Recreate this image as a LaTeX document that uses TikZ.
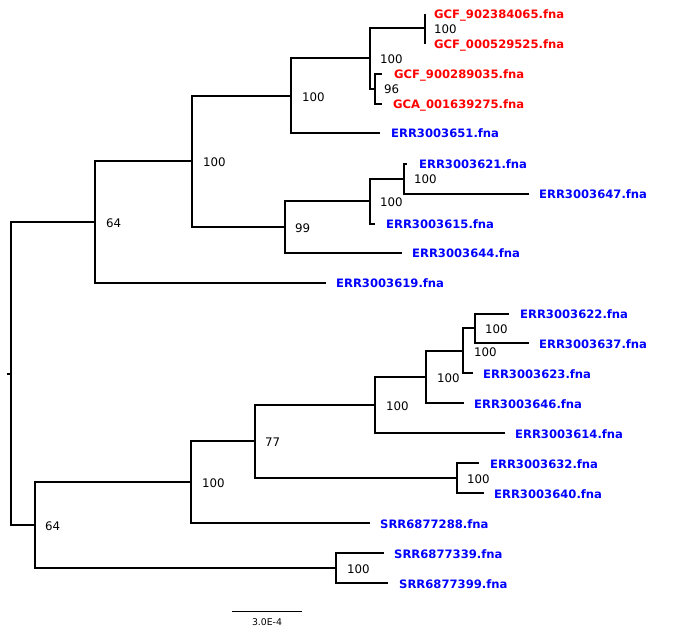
\documentclass[tikz,border=0pt]{standalone}
\usepackage{fontspec}
\setmainfont{DejaVu Sans}
\definecolor{tred}{RGB}{255,0,0}
\definecolor{tblue}{RGB}{0,0,255}
\tikzset{
  br/.style={line width=1.5pt, line join=miter},
  tipbase/.style={anchor=base west, inner sep=0pt, font=\bfseries\fontsize{11.6}{13}\selectfont},
  tipred/.style={tipbase, text=tred},
  tipblue/.style={tipbase, text=tblue},
  boot/.style={anchor=west, inner sep=0pt, font=\fontsize{11.8}{13}\selectfont},
  scaletext/.style={inner sep=0pt, font=\fontsize{9.3}{10}\selectfont}
}
\begin{document}
\begin{tikzpicture}[x=1pt,y=-1pt]
\useasboundingbox[fill=white] (0,0) rectangle (679,635);
% internal nodes
\coordinate (s) at (7,374);
\coordinate (r) at (11,374);
\coordinate (A) at (95,222);
\coordinate (B) at (192,161);
\coordinate (C) at (291,96);
\coordinate (D) at (370,58);
\coordinate (E) at (425,28);
\coordinate (F) at (375,89);
\coordinate (G) at (285,227);
\coordinate (H) at (370,201);
\coordinate (I) at (404,179);
\coordinate (J) at (35,525);
\coordinate (K) at (191,482);
\coordinate (L) at (255,441);
\coordinate (M) at (375,405);
\coordinate (N) at (426,377);
\coordinate (O) at (463,351);
\coordinate (P) at (475,328);
\coordinate (Q) at (457,478);
\coordinate (R) at (336,568);
% leaves
\coordinate (l1) at (425,14);
\coordinate (l2) at (425,44);
\coordinate (l3) at (382,74);
\coordinate (l4) at (382,104);
\coordinate (l5) at (380,133);
\coordinate (l6) at (407,164);
\coordinate (l7) at (529,194);
\coordinate (l8) at (375,224);
\coordinate (l9) at (402,253);
\coordinate (l10) at (326,283);
\coordinate (l11) at (509,314);
\coordinate (l12) at (529,343);
\coordinate (l13) at (473,373);
\coordinate (l14) at (464,403);
\coordinate (l15) at (505,433);
\coordinate (l16) at (479,463);
\coordinate (l17) at (484,493);
\coordinate (l18) at (370,523);
\coordinate (l19) at (384,553);
\coordinate (l20) at (388,583);
% branches
\draw[br] (s) -- (r);
\draw[br] (r) |- (A);
\draw[br] (A) |- (B);
\draw[br] (B) |- (C);
\draw[br] (C) |- (D);
\draw[br] (D) |- (E);
\draw[br] (E) |- (l1);
\draw[br] (E) |- (l2);
\draw[br] (D) |- (F);
\draw[br] (F) |- (l3);
\draw[br] (F) |- (l4);
\draw[br] (C) |- (l5);
\draw[br] (B) |- (G);
\draw[br] (G) |- (H);
\draw[br] (H) |- (I);
\draw[br] (I) |- (l6);
\draw[br] (I) |- (l7);
\draw[br] (H) |- (l8);
\draw[br] (G) |- (l9);
\draw[br] (A) |- (l10);
\draw[br] (r) |- (J);
\draw[br] (J) |- (K);
\draw[br] (K) |- (L);
\draw[br] (L) |- (M);
\draw[br] (M) |- (N);
\draw[br] (N) |- (O);
\draw[br] (O) |- (P);
\draw[br] (P) |- (l11);
\draw[br] (P) |- (l12);
\draw[br] (O) |- (l13);
\draw[br] (N) |- (l14);
\draw[br] (M) |- (l15);
\draw[br] (L) |- (Q);
\draw[br] (Q) |- (l16);
\draw[br] (Q) |- (l17);
\draw[br] (K) |- (l18);
\draw[br] (J) |- (R);
\draw[br] (R) |- (l19);
\draw[br] (R) |- (l20);
% leaf labels
\node[tipred]  (t1)  at (434,18)  {GCF\_902384065.fna};
\node[tipred]  (t2)  at (434,48)  {GCF\_000529525.fna};
\node[tipred]  (t3)  at (394,78)  {GCF\_900289035.fna};
\node[tipred]  (t4)  at (393,108) {GCA\_001639275.fna};
\node[tipblue] (t5)  at (391,137) {ERR3003651.fna};
\node[tipblue] (t6)  at (419,168) {ERR3003621.fna};
\node[tipblue] (t7)  at (539,198) {ERR3003647.fna};
\node[tipblue] (t8)  at (386,228) {ERR3003615.fna};
\node[tipblue] (t9)  at (412,257) {ERR3003644.fna};
\node[tipblue] (t10) at (336,287) {ERR3003619.fna};
\node[tipblue] (t11) at (520,318) {ERR3003622.fna};
\node[tipblue] (t12) at (539,348) {ERR3003637.fna};
\node[tipblue] (t13) at (483,378) {ERR3003623.fna};
\node[tipblue] (t14) at (474,408) {ERR3003646.fna};
\node[tipblue] (t15) at (515,438) {ERR3003614.fna};
\node[tipblue] (t16) at (490,468) {ERR3003632.fna};
\node[tipblue] (t17) at (494,498) {ERR3003640.fna};
\node[tipblue] (t18) at (380,528) {SRR6877288.fna};
\node[tipblue] (t19) at (394,558) {SRR6877339.fna};
\node[tipblue] (t20) at (399,588) {SRR6877399.fna};
% bootstrap values
\node[boot] (bE) at (434,29)  {100};
\node[boot] (bD) at (380,59)  {100};
\node[boot] (bF) at (384,89)  {96};
\node[boot] (bC) at (302,97)  {100};
\node[boot] (bB) at (203,162) {100};
\node[boot] (bI) at (414,179) {100};
\node[boot] (bH) at (380,202) {100};
\node[boot] (bG) at (295,228) {99};
\node[boot] (bA) at (106,223) {64};
\node[boot] (bP) at (485,329) {100};
\node[boot] (bO) at (474,352) {100};
\node[boot] (bN) at (437,378) {100};
\node[boot] (bM) at (386,406) {100};
\node[boot] (bQ) at (467,479) {100};
\node[boot] (bL) at (265,442) {77};
\node[boot] (bK) at (202,483) {100};
\node[boot] (bJ) at (45,526)  {64};
\node[boot] (bR) at (347,569) {100};
% scale bar
\coordinate (sb1) at (232,611);
\coordinate (sb2) at (302,611);
\draw[line width=1pt] (sb1) -- (sb2);
\node[scaletext] (sbt) at (267,622) {3.0E-4};
\end{tikzpicture}
\end{document}
